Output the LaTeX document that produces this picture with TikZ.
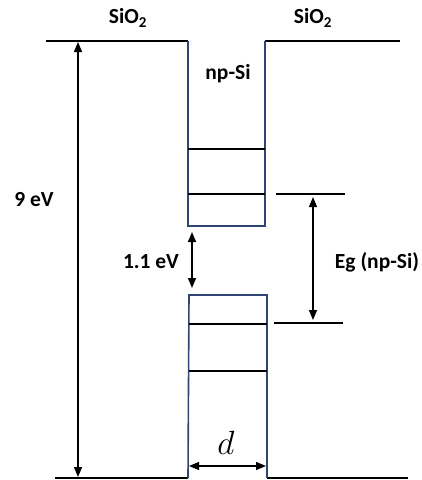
\documentclass[tikz,border=0pt]{standalone}
\usepackage{fontspec}
\setmainfont{Carlito}
\usetikzlibrary{arrows.meta}
\begin{document}
\begin{tikzpicture}[x=1pt,y=-1pt,
  lvl/.style={line width=1.3pt,black},
  wall/.style={line width=1.6pt,draw={rgb,255:red,47;green,70;blue,115}},
  dim/.style={line width=1.3pt,{Triangle[width=8pt,length=10pt]}-{Triangle[width=8pt,length=10pt]}},
  lab/.style={font=\bfseries\fontsize{21.5}{24}\selectfont,inner sep=0pt}]
\useasboundingbox (0,0) rectangle (422,480);
% coordinates
\coordinate (tl0) at (46,41);
\coordinate (tl1) at (188,41);
\coordinate (tr1) at (265,41);
\coordinate (tr0) at (400,41);
\coordinate (bl0) at (55,478);
\coordinate (bl1) at (188,478);
\coordinate (br1) at (267,478);
\coordinate (br0) at (408,478);
% top and bottom levels
\draw[lvl] (tl0) -- (tl1);
\draw[lvl] (tr1) -- (tr0);
\draw[lvl] (bl0) -- (bl1);
\draw[lvl] (br1) -- (br0);
% upper box (conduction well)
\draw[wall] (tl1) -- (188,226) -- (265,226) -- (tr1);
\draw[lvl] (188,149) -- (265,149);
\draw[lvl] (188,194) -- (265,194);
% lower box (valence well)
\draw[wall] (bl1) -- (189,295) -- (267,295) -- (br1);
\draw[lvl] (189,324) -- (267,324);
\draw[lvl] (189,371) -- (267,371);
% Eg reference levels
\coordinate (e1a) at (276,194); \coordinate (e1b) at (345,194);
\coordinate (e2a) at (274,323); \coordinate (e2b) at (343,323);
\draw[lvl] (e1a) -- (e1b);
\draw[lvl] (e2a) -- (e2b);
% arrows
\coordinate (a9t) at (78,42); \coordinate (a9b) at (78,477);
\draw[dim] (a9t) -- (a9b);
\coordinate (a1t) at (192,232); \coordinate (a1b) at (192,288);
\draw[dim] (a1t) -- (a1b);
\coordinate (aet) at (313,197); \coordinate (aeb) at (313,320);
\draw[dim] (aet) -- (aeb);
\coordinate (adl) at (189,466); \coordinate (adr) at (266,466);
\draw[dim] (adl) -- (adr);
% labels
\node[lab] (s1) at (128,18) {SiO$_\mathbf{2}$};
\node[lab] (s2) at (313,18) {SiO$_\mathbf{2}$};
\node[lab] (np) at (228,74) {np-Si};
\node[lab] (n9) at (34,200) {9 eV};
\node[lab] (n11) at (151,262) {1.1 eV};
\node[lab] (eg) at (377,262) {Eg (np-Si)};
\node[inner sep=0pt,font=\Huge,scale=1.35,transform shape] (d) at (226,443) {$d$};
\end{tikzpicture}
\end{document}
